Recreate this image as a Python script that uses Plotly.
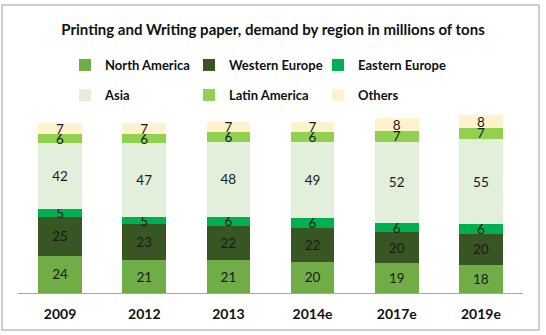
import plotly.graph_objects as go

years = ["2009", "2012", "2013", "2014e", "2017e", "2019e"]
north_america = [24, 21, 21, 20, 19, 18]
western_europe = [25, 23, 22, 22, 20, 20]
eastern_europe = [5, 5, 6, 6, 6, 6]
asia = [42, 47, 48, 49, 52, 55]
latin_america = [6, 6, 6, 6, 7, 7]
others = [7, 7, 7, 7, 8, 8]

series = [
    ("North America", north_america, "#70AD47"),
    ("Western Europe", western_europe, "#375623"),
    ("Eastern Europe", eastern_europe, "#00B050"),
    ("Asia", asia, "#E2EFDA"),
    ("Latin America", latin_america, "#92D050"),
    ("Others", others, "#FFF2CC"),
]

FONT = "Lato, Carlito, Calibri, sans-serif"

W, H = 546, 335
l, r, t, b = 18, 23, 106, 42
pw = W - l - r
ph = H - t - b

def px_x(px):
    return (px - l) / pw

def px_y(py):
    return (H - b - py) / ph

# legend grid: text left edges and row centers (pixels)
col_text_x = [105, 229, 358]
row_y = [65, 95]

fig = go.Figure()
legends = {}
for i, (name, vals, color) in enumerate(series):
    key = "legend" if i == 0 else f"legend{i + 1}"
    fig.add_trace(go.Bar(
        name=name, x=years, y=vals, marker_color=color,
        marker_line_width=0,
        text=[str(v) for v in vals], textposition="inside",
        insidetextanchor="middle", textangle=0,
        textfont=dict(family=FONT, size=13.5, color="#1a1a1a"),
        legend=key,
    ))
    legends[key] = dict(
        orientation="h", xanchor="left", yanchor="middle",
        x=px_x(col_text_x[i % 3] - 40), y=px_y(row_y[i // 3]),
        font=dict(family=FONT, size=13, color="#111111", weight="bold"),
        itemwidth=30, bgcolor="rgba(0,0,0,0)", itemclick=False,
    )

fig.update_layout(
    width=W, height=H,
    margin=dict(l=l, r=r, t=t, b=b),
    barmode="stack", bargap=0.48,
    plot_bgcolor="white", paper_bgcolor="white",
    title=dict(
        text="<b>Printing and Writing paper, demand by region in millions of tons</b>",
        x=0.5, xanchor="center", y=1 - 30 / H, yanchor="middle",
        font=dict(family=FONT, size=15, color="#111111"),
    ),
    uniformtext=dict(mode="show", minsize=13.5),
    xaxis=dict(
        showline=True, linecolor="#A6A6A6", linewidth=1,
        ticks="", showgrid=False,
        tickfont=dict(family=FONT, size=14, color="#111111", weight="bold"),
        ticklabelstandoff=8,
    ),
    yaxis=dict(range=[0, 120], visible=False, showgrid=False),
    showlegend=True,
    shapes=[dict(
        type="rect", xref="paper", yref="paper",
        x0=px_x(2), x1=px_x(539), y0=px_y(330), y1=px_y(5),
        line=dict(color="#BFBFBF", width=1.5), layer="below",
    )],
    **legends,
)

fig.write_html("out.html")
